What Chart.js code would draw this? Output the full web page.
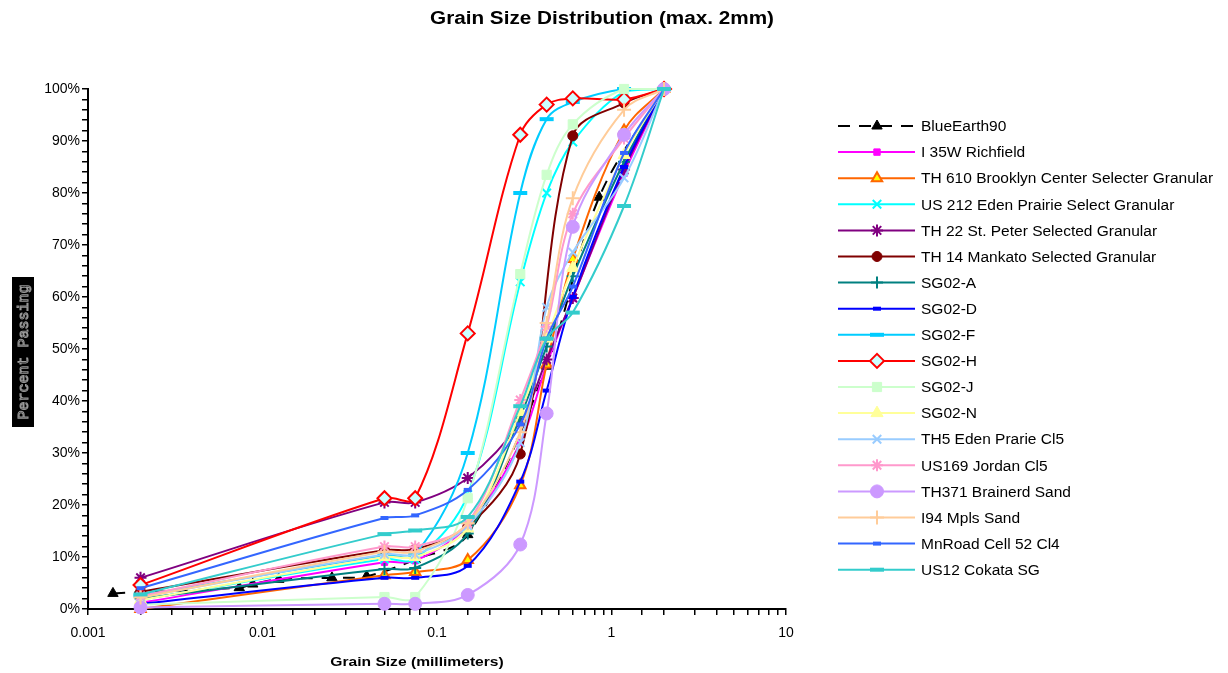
<!DOCTYPE html>
<html>
<head>
<meta charset="utf-8">
<title>Grain Size Distribution</title>
<script src="https://cdn.jsdelivr.net/npm/chart.js@4/dist/chart.umd.min.js"></script>
<style>
  html, body { margin: 0; padding: 0; background: #fff; }
  #wrap { width: 1228px; height: 673px; }
</style>
</head>
<body>
<div id="wrap"><canvas id="chart1" width="1228" height="673"></canvas></div>
<script>
// sieve openings (mm) used by most of the samples
var sieveSizes = [0.002, 0.05, 0.075, 0.15, 0.3, 0.425, 0.6, 1.18, 2.0];
// TH 14 has no 0.425 reading
var mankatoSizes = [0.002, 0.05, 0.075, 0.15, 0.3, 0.6, 1.18, 2.0];
// hydrometer + sieve sizes for BlueEarth90
var blueEarthSizes = [0.00139, 0.00736, 0.00879, 0.0124, 0.025, 0.0395, 0.075, 0.15, 0.425, 0.85, 2.0];

// percent passing
var blueEarth90     = [3.0, 4.1, 4.8, 5.7, 6.0, 6.3, 9.5, 14.3, 46.7, 79.2, 100];
var i35wRichfield   = [1.2, 9.0, 9.3, 16.0, 32.0, 47.0, 59.8, 83.8, 100];
var th610Brooklyn   = [0.0, 6.5, 7.1, 9.4, 23.8, 47.0, 67.3, 92.0, 100];
var us212Eden       = [1.8, 9.6, 9.6, 22.0, 62.9, 80.0, 89.8, 99.5, 100];
var th22StPeter     = [6.0, 20.5, 20.5, 25.2, 36.0, 48.0, 59.8, 84.5, 100];
var th14Mankato     = [3.3, 11.3, 11.5, 15.8, 29.8, 91.0, 97.3, 100];
var sg02A           = [2.0, 7.7, 7.9, 14.5, 37.0, 50.5, 64.0, 86.0, 100];
var sg02D           = [1.0, 6.0, 6.0, 8.3, 24.5, 42.0, 60.0, 85.0, 100];
var sg02F           = [2.6, 10.3, 10.5, 30.0, 80.0, 94.2, 97.5, 100, 100];
var sg02H           = [4.6, 21.3, 21.3, 53.0, 91.2, 97.0, 98.2, 98.0, 100];
var sg02J           = [0.8, 2.3, 2.3, 21.3, 64.4, 83.5, 93.2, 100, 100];
var sg02N           = [1.7, 10.0, 10.0, 15.5, 37.9, 52.0, 65.6, 87.3, 100];
var th5EdenCl5      = [2.3, 10.5, 10.5, 16.0, 32.0, 58.0, 68.6, 82.9, 100];
var us169JordanCl5  = [2.5, 12.0, 12.0, 16.5, 40.2, 54.3, 76.0, 90.5, 100];
var th371Brainerd   = [0.3, 1.0, 1.0, 2.7, 12.4, 37.6, 73.5, 91.2, 100];
var i94MplsSand     = [2.2, 11.0, 11.0, 16.5, 34.0, 55.0, 79.0, 96.0, 100];
var mnroadCell52    = [4.0, 17.5, 18.0, 22.9, 35.5, 52.0, 62.0, 87.7, 100];
var us12Cokata      = [2.8, 14.4, 15.1, 17.7, 39.0, 52.0, 57.0, 77.5, 100];

var yTicks = ['0%', '10%', '20%', '30%', '40%', '50%', '60%', '70%', '80%', '90%', '100%'];

function pts(sizes, vals) {
  return sizes.map(function (s, i) { return { x: s, y: vals[i] }; });
}

var series = [
  { label: 'BlueEarth90', sizes: blueEarthSizes, vals: blueEarth90, color: '#000000', fill: '#000000', style: 'triangle', r: 6, dash: [12, 9] },
  { label: 'I 35W Richfield', sizes: sieveSizes, vals: i35wRichfield, color: '#FF00FF', fill: '#FF00FF', style: 'rect', r: 4.5 },
  { label: 'TH 610 Brooklyn Center Selecter Granular', sizes: sieveSizes, vals: th610Brooklyn, color: '#FF6600', fill: '#FFFF00', style: 'triangle', r: 6, pw: 2 },
  { label: 'US 212 Eden Prairie Select Granular', sizes: sieveSizes, vals: us212Eden, color: '#00FFFF', fill: '#00FFFF', style: 'crossRot', r: 6, pw: 2 },
  { label: 'TH 22 St. Peter Selected Granular', sizes: sieveSizes, vals: th22StPeter, color: '#800080', fill: '#800080', style: 'star', r: 6, pw: 2 },
  { label: 'TH 14 Mankato Selected Granular', sizes: mankatoSizes, vals: th14Mankato, color: '#800000', fill: '#800000', style: 'circle', r: 5 },
  { label: 'SG02-A', sizes: sieveSizes, vals: sg02A, color: '#008080', fill: '#008080', style: 'cross', r: 6, pw: 2 },
  { label: 'SG02-D', sizes: sieveSizes, vals: sg02D, color: '#0000FF', fill: '#0000FF', style: 'line', r: 4, pw: 4 },
  { label: 'SG02-F', sizes: sieveSizes, vals: sg02F, color: '#00CCFF', fill: '#00CCFF', style: 'line', r: 7, pw: 4 },
  { label: 'SG02-H', sizes: sieveSizes, vals: sg02H, color: '#FF0000', fill: '#CCFFFF', style: 'rectRot', r: 7, pw: 2 },
  { label: 'SG02-J', sizes: sieveSizes, vals: sg02J, color: '#CCFFCC', fill: '#CCFFCC', style: 'rect', r: 6.5 },
  { label: 'SG02-N', sizes: sieveSizes, vals: sg02N, color: '#FFFF99', fill: '#FFFF99', style: 'triangle', r: 7 },
  { label: 'TH5 Eden Prarie Cl5', sizes: sieveSizes, vals: th5EdenCl5, color: '#99CCFF', fill: '#99CCFF', style: 'crossRot', r: 6, pw: 2 },
  { label: 'US169 Jordan Cl5', sizes: sieveSizes, vals: us169JordanCl5, color: '#FF99CC', fill: '#FF99CC', style: 'star', r: 6, pw: 2 },
  { label: 'TH371 Brainerd Sand', sizes: sieveSizes, vals: th371Brainerd, color: '#CC99FF', fill: '#CC99FF', style: 'circle', r: 6.5 },
  { label: 'I94 Mpls Sand', sizes: sieveSizes, vals: i94MplsSand, color: '#FFCC99', fill: '#FFCC99', style: 'cross', r: 7, pw: 2 },
  { label: 'MnRoad Cell 52 Cl4', sizes: sieveSizes, vals: mnroadCell52, color: '#3366FF', fill: '#3366FF', style: 'line', r: 4, pw: 4 },
  { label: 'US12 Cokata SG', sizes: sieveSizes, vals: us12Cokata, color: '#33CCCC', fill: '#33CCCC', style: 'line', r: 7, pw: 4 }
];

var datasets = series.map(function (s, i) {
  return {
    label: s.label,
    data: pts(s.sizes, s.vals),
    borderColor: s.color,
    borderWidth: 2,
    borderDash: s.dash || [],
    pointStyle: s.style,
    pointRadius: s.r,
    pointHoverRadius: s.r,
    pointBackgroundColor: s.fill,
    pointBorderColor: s.color,
    pointBorderWidth: s.pw || 1,
    tension: 0.35,
    fill: false,
    clip: false,
    order: -i   // later series drawn on top
  };
});

// text drawn a little wider than the font, like the original export
function wideText(ctx, txt, x, y, sx) {
  ctx.save();
  ctx.translate(x, y);
  ctx.scale(sx, 1);
  ctx.fillText(txt, 0, 0);
  ctx.restore();
}

// title, boxed y caption, x caption and the side legend
var decorPlugin = {
  id: 'decor',
  afterDraw: function (chart) {
    var ctx = chart.ctx;
    ctx.save();
    ctx.fillStyle = '#000';
    ctx.textAlign = 'center';
    ctx.textBaseline = 'middle';
    ctx.font = 'bold 18px "Liberation Sans", Arial, sans-serif';
    wideText(ctx, 'Grain Size Distribution (max. 2mm)', 602, 19, 1.15);

    ctx.font = 'bold 13px "Liberation Sans", Arial, sans-serif';
    wideText(ctx, 'Grain Size (millimeters)', 417, 662, 1.2);

    // y caption in a black box
    ctx.fillStyle = '#000';
    ctx.fillRect(12, 277, 22, 150);
    ctx.translate(23, 352);
    ctx.rotate(-Math.PI / 2);
    ctx.font = '15px "Liberation Mono", "DejaVu Sans Mono", monospace';
    ctx.lineWidth = 1;
    ctx.strokeStyle = '#9a9a9a';
    ctx.strokeText('Percent Passing', 0, 1);
    ctx.restore();

    // legend
    ctx.save();
    ctx.font = '15.5px "Liberation Sans", Arial, sans-serif';
    ctx.textBaseline = 'middle';
    ctx.textAlign = 'left';
    chart.data.datasets.forEach(function (ds, i) {
      var y = 126 + i * 26.1;
      ctx.strokeStyle = ds.borderColor;
      ctx.lineWidth = ds.borderWidth;
      ctx.setLineDash(ds.borderDash);
      ctx.beginPath();
      ctx.moveTo(838, y);
      ctx.lineTo(915, y);
      ctx.stroke();
      ctx.setLineDash([]);
      ctx.fillStyle = ds.pointBackgroundColor;
      ctx.strokeStyle = ds.pointBorderColor;
      ctx.lineWidth = ds.pointBorderWidth;
      Chart.helpers.drawPoint(ctx, {
        pointStyle: ds.pointStyle, rotation: 0,
        radius: ds.pointRadius, borderWidth: ds.pointBorderWidth
      }, 877, y);
      ctx.fillStyle = '#000';
      ctx.fillText(ds.label, 921, y + 1);
    });
    ctx.restore();
  }
};

var ctx1 = document.getElementById('chart1').getContext('2d');
var chart1 = new Chart(ctx1, {
  type: 'line',
  data: { datasets: datasets },
  plugins: [decorPlugin],
  options: {
    responsive: false,
    animation: false,
    events: [],
    layout: { padding: { top: 89, right: 442, left: 0, bottom: 0 } },
    plugins: {
      legend: { display: false },
      title: { display: false },
      tooltip: { enabled: false }
    },
    scales: {
      x: {
        type: 'logarithmic',
        min: 0.001,
        max: 10,
        afterFit: function (scale) { scale.height = 64; },
        border: { display: true, color: '#000', width: 2 },
        grid: { drawOnChartArea: false, drawTicks: true, tickLength: 6, color: '#000', lineWidth: 1.5 },
        ticks: {
          autoSkip: false, maxRotation: 0, padding: 10, color: '#000',
          font: { family: '"Liberation Sans", Arial, sans-serif', size: 14 },
          callback: function (v) {
            var l = Math.log10(v);
            return Math.abs(l - Math.round(l)) < 1e-6 ? String(Number(v.toPrecision(1))) : '';
          }
        }
      },
      y: {
        min: 0,
        max: 100,
        afterFit: function (scale) { scale.width = 88; },
        border: { display: true, color: '#000', width: 2 },
        grid: { drawOnChartArea: false, drawTicks: true, tickLength: 6, color: '#000', lineWidth: 1.5 },
        ticks: {
          stepSize: 2, autoSkip: false, padding: 2, color: '#000',
          font: { family: '"Liberation Sans", Arial, sans-serif', size: 14 },
          callback: function (v) { return v % 10 === 0 ? yTicks[v / 10] : ''; }
        }
      }
    }
  }
});
</script>
</body>
</html>
